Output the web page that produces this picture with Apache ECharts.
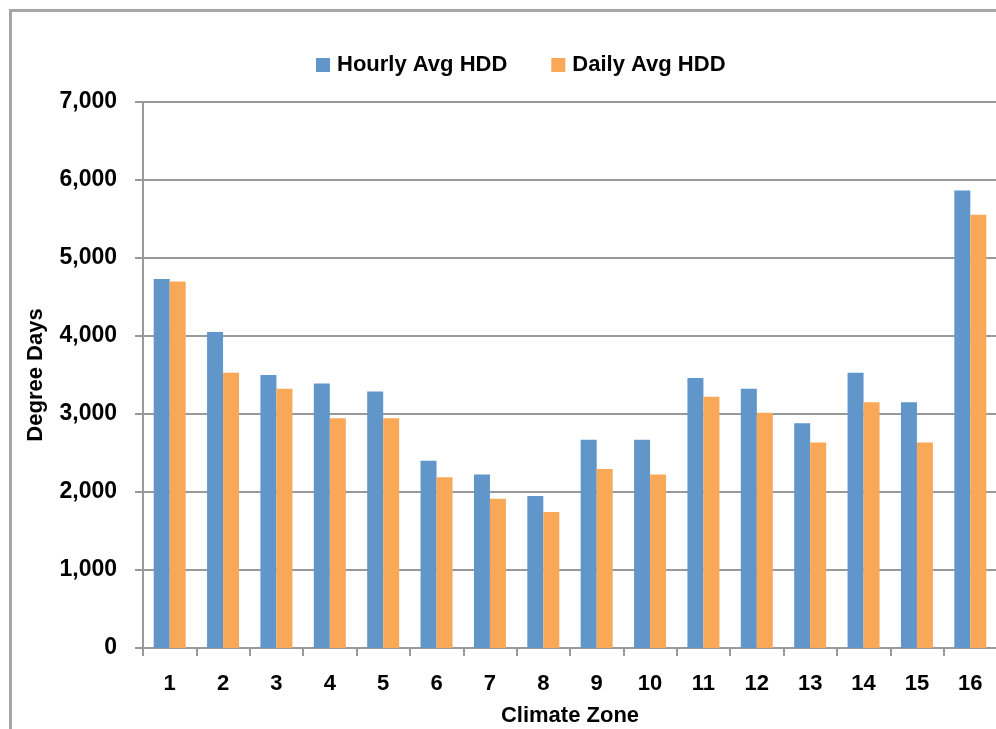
<!DOCTYPE html>
<html>
<head>
<meta charset="utf-8">
<script src="https://cdn.jsdelivr.net/npm/echarts@6/dist/echarts.min.js"></script>
<style>
html,body{margin:0;padding:0;background:#fff;}
#chart{width:996px;height:729px;}
</style>
</head>
<body>
<div id="chart"></div>
<script>
const zones = ['1','2','3','4','5','6','7','8','9','10','11','12','13','14','15','16'];
const hourlyHDD = [4730, 4050, 3500, 3390, 3290, 2400, 2225, 1950, 2670, 2670, 3460, 3325, 2880, 3530, 3150, 5865];
const dailyHDD  = [4700, 3530, 3325, 2945, 2945, 2190, 1915, 1745, 2295, 2225, 3220, 3015, 2635, 3150, 2635, 5555];
const yTicks = [0, 1000, 2000, 3000, 4000, 5000, 6000, 7000];

const FONT = '"Liberation Sans", Arial, sans-serif';
const chart = echarts.init(document.getElementById('chart'), null, {renderer: 'canvas'});
chart.setOption({
  animation: false,
  backgroundColor: '#ffffff',
  textStyle: {fontFamily: FONT},
  graphic: [{
    type: 'rect', silent: true, z: -1,
    shape: {x: 10.5, y: 10.5, width: 1100, height: 900},
    style: {fill: null, stroke: '#a6a6a6', lineWidth: 3}
  }],
  legend: {
    left: 311, top: 49,
    itemWidth: 14, itemHeight: 14, itemGap: 44,
    icon: 'rect',
    textStyle: {fontFamily: FONT, fontWeight: 'bold', fontSize: 22, color: '#000', padding: [0, 0, 0, 2]},
    data: ['Hourly Avg HDD', 'Daily Avg HDD']
  },
  grid: {left: 143, top: 102, width: 854, height: 546, containLabel: false, outerBoundsMode: 'none'},
  xAxis: {
    type: 'category',
    data: zones,
    name: 'Climate Zone',
    nameLocation: 'middle',
    nameGap: 57,
    nameTextStyle: {fontFamily: FONT, fontWeight: 'bold', fontSize: 22, color: '#000'},
    axisLine: {lineStyle: {color: '#999999', width: 2}},
    axisTick: {show: true, length: 8, lineStyle: {color: '#999999', width: 2}},
    axisLabel: {fontFamily: FONT, fontWeight: 'bold', fontSize: 22, color: '#000', margin: 25}
  },
  yAxis: {
    type: 'value',
    min: 0, max: 7000, interval: 1000,
    name: 'Degree Days',
    nameLocation: 'middle',
    nameGap: 96,
    nameRotate: 90,
    nameTextStyle: {fontFamily: FONT, fontWeight: 'bold', fontSize: 22, color: '#000'},
    axisLine: {show: true, lineStyle: {color: '#999999', width: 2}},
    axisTick: {show: true, length: 8, lineStyle: {color: '#999999', width: 2}},
    splitLine: {show: true, lineStyle: {color: '#999999', width: 2}},
    axisLabel: {
      fontFamily: FONT, fontWeight: 'bold', fontSize: 23, color: '#000', margin: 26,
      formatter: v => yTicks.includes(v) ? v.toLocaleString('en-US') : ''
    }
  },
  series: [
    {name: 'Hourly Avg HDD', type: 'bar', data: hourlyHDD, barWidth: 16, barGap: '0%',
     itemStyle: {color: '#6196CA'}},
    {name: 'Daily Avg HDD', type: 'bar', data: dailyHDD, barWidth: 16, barGap: '0%',
     itemStyle: {color: '#F9A857'}}
  ]
});
</script>
</body>
</html>
